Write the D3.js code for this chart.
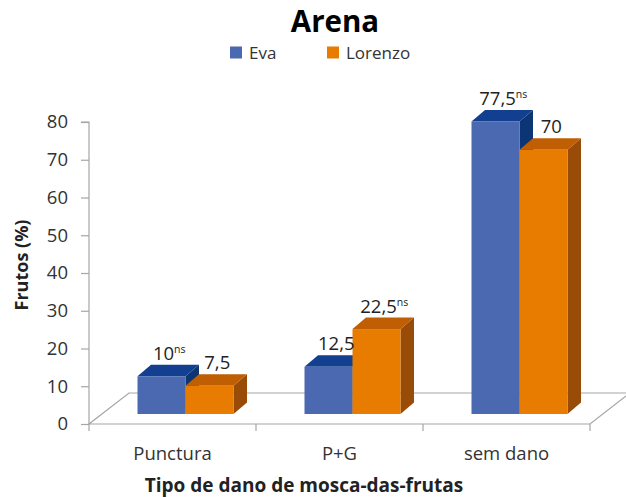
<!DOCTYPE html>
<html><head><meta charset="utf-8">
<script src="https://cdn.jsdelivr.net/npm/d3@7"></script>
<style>html,body{margin:0;padding:0;background:#fff;}svg{display:block;font-family:"Open Sans",sans-serif;}</style>
</head><body>
<svg id="chart" width="626" height="497"></svg>
<script>
const categories = ["Punctura", "P+G", "sem dano"];
const seriesNames = ["Eva", "Lorenzo"];
const evaValues = [10, 12.5, 77.5];
const lorenzoValues = [7.5, 22.5, 70];
const evaLabels = ["10", "12,5", "77,5"];
const evaSup = ["ns", "", "ns"];
const lorenzoLabels = ["7,5", "22,5", "70"];
const lorenzoSup = ["", "ns", ""];
const yTicks = [0, 10, 20, 30, 40, 50, 60, 70, 80];
const title = "Arena";
const yTitle = "Frutos (%)";
const xTitle = "Tipo de dano de mosca-das-frutas";

const colors = {
  Eva: {front: "#4a69b0", top: "#123f8f", side: "#0c3576"},
  Lorenzo: {front: "#e77c00", top: "#bf5e02", side: "#984c07"}
};

const svg = d3.select("#chart");
const left = 89, right = 590, floorY = 424;
const floorDx = 40, floorDy = -31;
const barShiftX = 13, barShiftY = -10;
const depthX = 13.5, depthY = -11.5;

const x = d3.scaleBand().domain(categories).range([left, right]).padding(0);
const y = d3.scaleLinear().domain([0, 80]).range([floorY, 122]);
const pairW = 96;
const xs = d3.scaleBand().domain(seriesNames).range([0, pairW]).padding(0);

// Title
svg.append("text").attr("x", 335).attr("y", 32).attr("text-anchor", "middle")
  .attr("font-size", 29.5).attr("font-weight", 700).attr("fill", "#000").text(title);

// Legend
const legendPos = [{name: "Eva", x: 230}, {name: "Lorenzo", x: 327}];
legendPos.forEach(l => {
  svg.append("rect").attr("x", l.x).attr("y", 46.5).attr("width", 12).attr("height", 12)
    .attr("fill", colors[l.name].front);
  svg.append("text").attr("x", l.x + 19).attr("y", 58.7).attr("font-size", 17)
    .attr("fill", "#333").text(l.name);
});

// Floor
const fl = [[left, floorY], [right, floorY], [right + floorDx, floorY + floorDy], [left + floorDx, floorY + floorDy]];
svg.append("path").attr("d", "M" + fl.map(p => p.join(",")).join("L") + "Z")
  .attr("fill", "#fff").attr("stroke", "#a6a6a6").attr("stroke-width", 1.2);

// Y axis
const yAxis = d3.axisLeft(y).tickValues(yTicks).tickSize(8).tickPadding(13);
const gy = svg.append("g").attr("transform", `translate(${left},0)`).call(yAxis);
gy.select(".domain").attr("stroke", "#a6a6a6").attr("stroke-width", 1.2).attr("d", `M-8,${y(80)}H0V${floorY}`);
gy.selectAll(".tick line").attr("stroke", "#a6a6a6").attr("stroke-width", 1.2);
gy.selectAll(".tick text").attr("font-size", 18.5).attr("fill", "#333").attr("font-family", "'Open Sans', sans-serif");

// X ticks
const xTickPos = categories.map(c => x(c)).concat([right]);
svg.selectAll(".xt").data(xTickPos).join("line").attr("class", "xt")
  .attr("x1", d => d).attr("x2", d => d).attr("y1", floorY).attr("y2", floorY + 7)
  .attr("stroke", "#a6a6a6").attr("stroke-width", 1.2);

// Category labels
svg.selectAll(".cat").data(categories).join("text").attr("class", "cat")
  .attr("x", d => x(d) + x.bandwidth() / 2).attr("y", 460).attr("text-anchor", "middle")
  .attr("font-size", 18.5).attr("fill", "#333").text(d => d);

// Axis titles
svg.append("text").attr("x", 304).attr("y", 492).attr("text-anchor", "middle")
  .attr("font-size", 19).attr("font-weight", 700).attr("fill", "#222").text(xTitle);
svg.append("text").attr("transform", "translate(28,265) rotate(-90)").attr("text-anchor", "middle")
  .attr("font-size", 18).attr("font-weight", 700).attr("fill", "#222").text(yTitle);

// Bars
const bars = [];
categories.forEach((c, i) => {
  bars.push({cat: c, s: "Eva", v: evaValues[i], lab: evaLabels[i], sup: evaSup[i]});
  bars.push({cat: c, s: "Lorenzo", v: lorenzoValues[i], lab: lorenzoLabels[i], sup: lorenzoSup[i]});
});
const g = svg.append("g");
bars.forEach(b => {
  const x0 = x(b.cat) + (x.bandwidth() - pairW) / 2 + xs(b.s) + barShiftX;
  const w = xs.bandwidth();
  const yb = y(0) + barShiftY;
  const yt = y(b.v) + barShiftY;
  const c = colors[b.s];
  const bg = g.append("g");
  bg.append("path").attr("d", `M${x0 + w},${yt}L${x0 + w + depthX},${yt + depthY}L${x0 + w + depthX},${yb + depthY}L${x0 + w},${yb}Z`).attr("fill", c.side);
  bg.append("path").attr("d", `M${x0},${yt}L${x0 + depthX},${yt + depthY}L${x0 + w + depthX},${yt + depthY}L${x0 + w},${yt}Z`).attr("fill", c.top);
  bg.append("rect").attr("x", x0).attr("y", yt).attr("width", w).attr("height", yb - yt).attr("fill", c.front);
  const t = svg.append("text").attr("x", x0 + w / 2 + depthX / 2 + 1).attr("y", yt + depthY - 5)
    .attr("text-anchor", "middle").attr("font-size", 18.5).attr("fill", "#222");
  t.append("tspan").text(b.lab);
  if (b.sup) t.append("tspan").attr("font-size", 10.5).attr("dy", -7).text(b.sup);
});
</script>
</body></html>
